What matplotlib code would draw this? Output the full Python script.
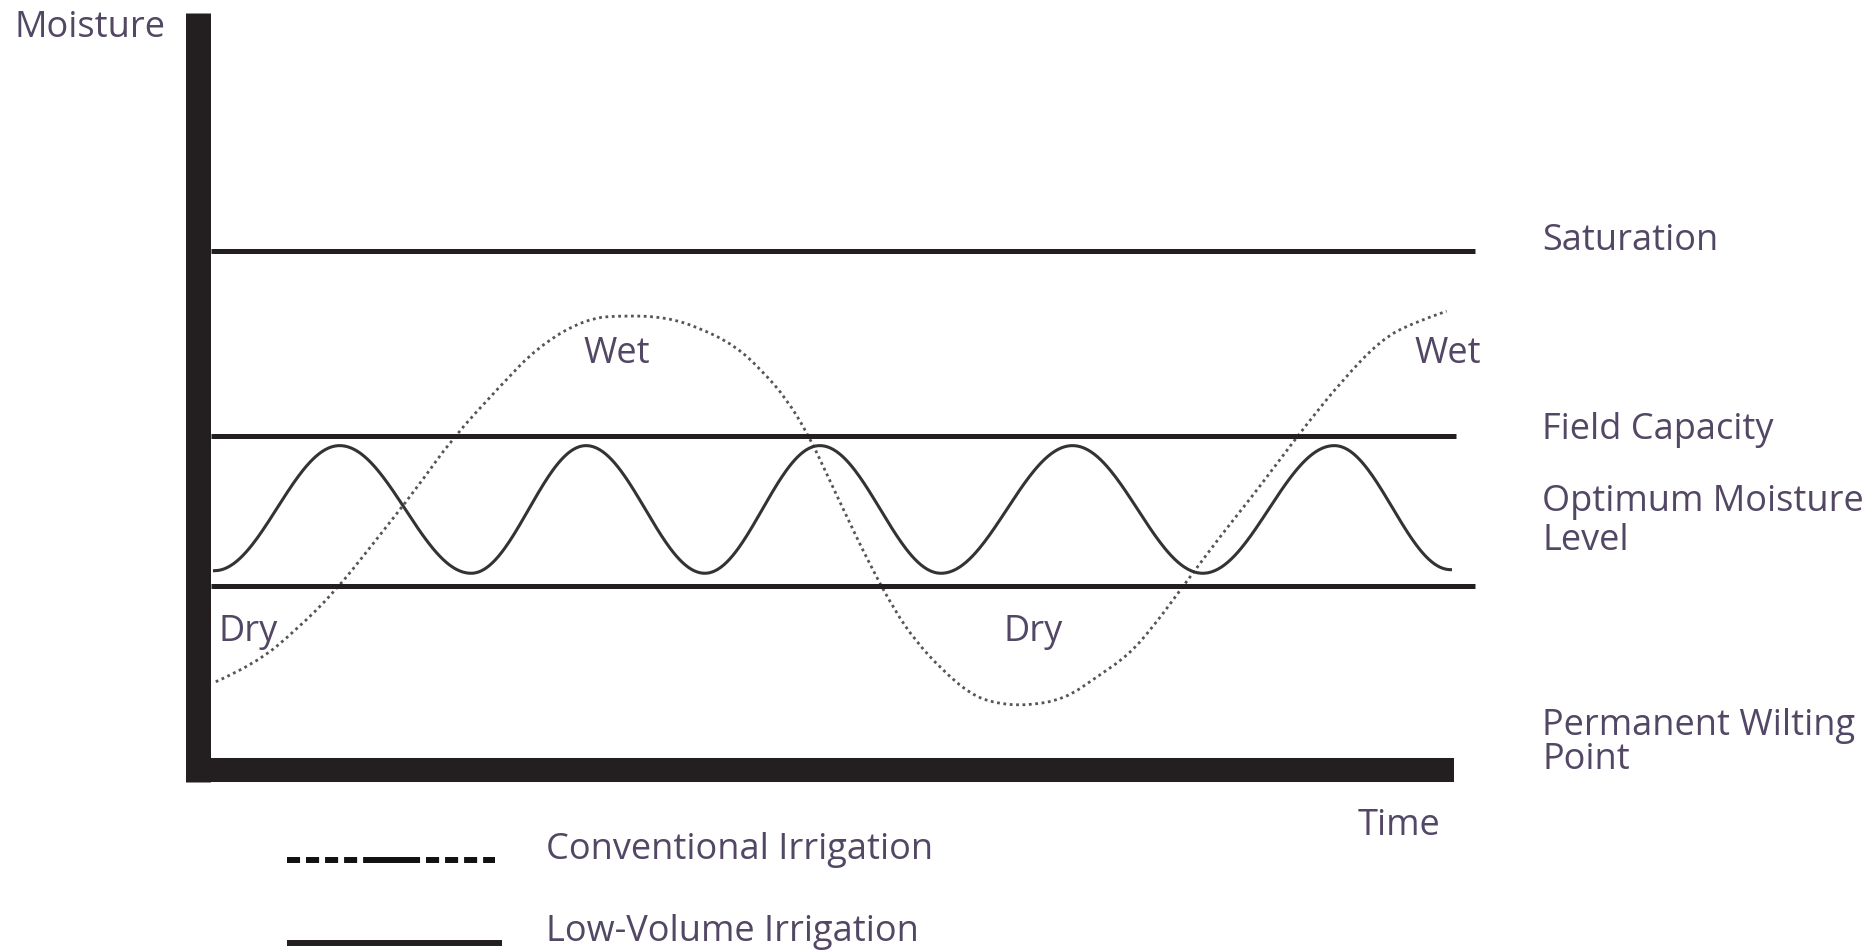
import numpy as np
import matplotlib
matplotlib.use('Agg')
import matplotlib.pyplot as plt
from matplotlib.path import Path
from matplotlib.patches import PathPatch

# moisture levels (arbitrary units, saturation = 100)
saturation = 100.0
field_capacity = 64.4
optimum_low = 35.4

# low-volume irrigation, turning points (time, moisture)
low_volume_t = [1.3, 11.1, 21.4, 30.4, 39.7, 48.7, 58.2, 68.5, 78.7, 89.0, 98.1]
low_volume_m = [38.4, 62.5, 37.9, 62.5, 37.9, 62.5, 37.9, 62.5, 37.9, 62.5, 38.6]

# conventional irrigation, points
conventional_t = [1.4, 4.5, 7.8, 10.7, 13.6, 17.2, 19.9, 23.6, 26.7, 30.4, 33.5,
                  36.7, 39.3, 42.1, 44.2, 46.1, 47.8, 49.2, 50.8, 52.6, 54.6,
                  56.2, 58.2, 60.5, 62.5, 65.0, 67.9, 70.4, 72.8, 74.7, 77.4,
                  80.0, 82.4, 84.5, 86.8, 89.6, 92.7, 95.3, 97.8]
conventional_m = [17.0, 20.4, 27.2, 34.3, 43.2, 54.5, 63.8, 73.8, 81.7, 87.0, 87.6,
                  87.2, 85.2, 81.7, 76.9, 71.5, 64.6, 57.3, 48.9, 39.7, 30.6,
                  24.9, 19.5, 14.6, 12.8, 12.4, 13.7, 17.9, 22.0, 27.2, 36.2,
                  44.8, 52.2, 59.0, 66.5, 75.0, 83.0, 86.3, 88.4]

INK = '#231f20'
TXT = '#524764'


def smooth(ts, ms, n=80):
    # half-cosine between consecutive turning points
    xs, ys = [], []
    for i in range(len(ts) - 1):
        s = np.linspace(0, 1, n)
        w = (1 - np.cos(np.pi * s)) / 2
        xs.append(ts[i] + (ts[i + 1] - ts[i]) * s)
        ys.append(ms[i] + (ms[i + 1] - ms[i]) * w)
    return np.concatenate(xs), np.concatenate(ys)


def traced_path(ts, ms):
    # quadratic bezier through the traced points (points act as control points)
    pts = list(zip(ts, ms))
    verts = [pts[0]]
    codes = [Path.MOVETO]
    for i in range(1, len(pts) - 1):
        mid = ((pts[i][0] + pts[i + 1][0]) / 2, (pts[i][1] + pts[i + 1][1]) / 2)
        if i == len(pts) - 2:
            mid = pts[-1]
        verts += [pts[i], mid]
        codes += [Path.CURVE3, Path.CURVE3]
    return Path(verts, codes)


def main():
    plt.rcParams['font.family'] = ['Open Sans', 'DejaVu Sans']
    fig = plt.figure(figsize=(18.68, 9.53), dpi=100)
    ax = fig.add_axes([0, 0, 1, 1])
    ax.set_xlim(-15.5, 130.8)
    ax.set_ylim(-35.07, 148.55)
    ax.axis('off')

    # axes bars
    ax.plot([-0.94, 98.4], [0, 0], lw=17.3, color=INK, solid_capstyle='butt')
    ax.plot([0, 0], [-2.3, 145.9], lw=18, color=INK, solid_capstyle='butt')

    # reference levels
    ax.plot([1.0, 100], [saturation] * 2, lw=3.6, color=INK, solid_capstyle='butt')
    ax.plot([1.0, 98.5], [field_capacity] * 2, lw=3.6, color=INK, solid_capstyle='butt')
    ax.plot([1.0, 100], [optimum_low] * 2, lw=3.6, color=INK, solid_capstyle='butt')

    x, y = smooth(low_volume_t, low_volume_m)
    ax.plot(x, y, lw=2.2, color='#333333')
    ax.add_patch(PathPatch(traced_path(conventional_t, conventional_m), fill=False,
                           lw=2.0, edgecolor='#555555', linestyle=(0, (1, 1.3))))

    kw = dict(fontsize=26, color=TXT, ha='left', va='center', clip_on=False)
    d = -0.8
    ax.text(-14.4, 143.9 + d, 'Moisture', **kw)
    ax.text(105.3, 102.9 + d, 'Saturation', **kw)
    ax.text(30.2, 81.1 + d, 'Wet', **kw)
    ax.text(95.3, 81.1 + d, 'Wet', **kw)
    ax.text(105.3, 66.5 + d, 'Field Capacity', **kw)
    ax.text(105.3, 52.6 + d, 'Optimum Moisture', **kw)
    ax.text(105.3, 45.1 + d, 'Level', **kw)
    ax.text(1.6, 27.6 + d, 'Dry', **kw)
    ax.text(63.1, 27.6 + d, 'Dry', **kw)
    ax.text(105.3, 9.4 + d, 'Permanent Wilting', **kw)
    ax.text(105.3, 2.9 + d, 'Point', **kw)
    ax.text(90.8, -9.8 + d, 'Time', **kw)
    ax.text(27.3, -14.5 + d, 'Conventional Irrigation', **kw)
    ax.text(27.3, -31.0, 'Low-Volume Irrigation', **kw)

    # legend keys
    plt.rcParams['lines.scale_dashes'] = False
    ax.plot([7.0, 23.3], [-17.3, -17.3], lw=4.3, color='#111111', solid_capstyle='butt',
            dash_capstyle='butt',
            linestyle=(0, (9.4, 4.3, 9.4, 4.3, 9.4, 4.3, 9.4, 4.3, 41, 4.3,
                           9.4, 4.3, 9.4, 4.3, 9.4, 4.3, 9.4, 100)),
            clip_on=False)
    ax.plot([7.0, 23.8], [-33.3, -33.3], lw=4.3, color=INK, solid_capstyle='butt',
            clip_on=False)

    fig.savefig('out.png', dpi=100)


if __name__ == '__main__':
    main()
